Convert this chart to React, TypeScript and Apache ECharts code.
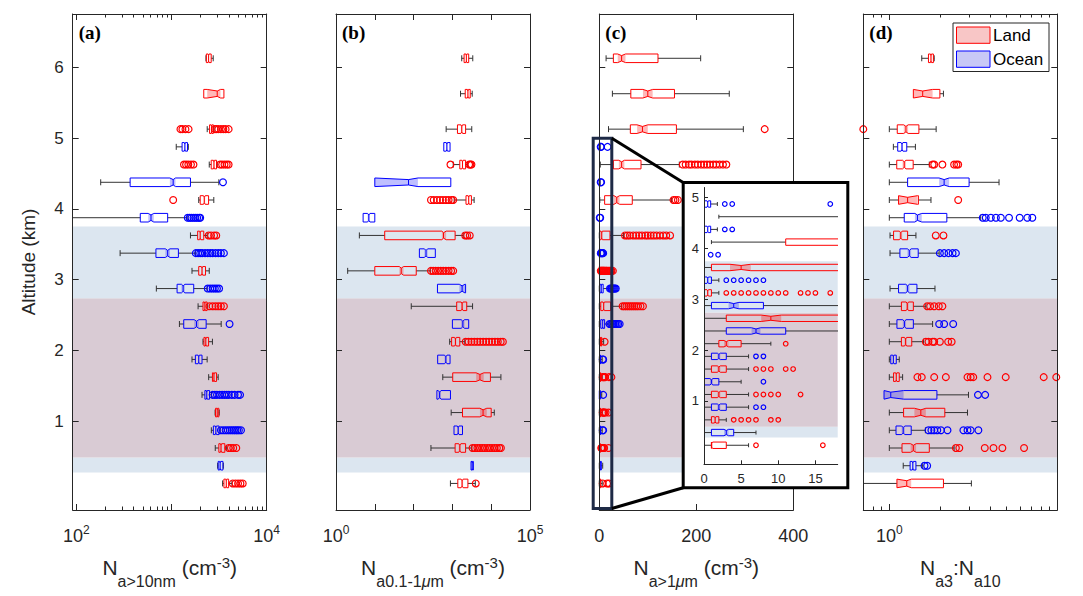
import React, { useEffect, useRef } from 'react';
import * as echarts from 'echarts';

const FONT = "'Liberation Sans', Arial, Helvetica, sans-serif";
const SERIF = "'Liberation Serif', 'Times New Roman', serif";
const AXIS = '#262626';
const LAND = '#ff0000';
const OCEAN = '#0000ff';
const LAND_FILL = 'rgba(255,0,0,0.28)';
const OCEAN_FILL = 'rgba(0,0,255,0.25)';
const BAND_BLUE = '#dce6f0';
const BAND_PURPLE = '#d9cbd4';
const WHISKER = '#333333';

// shaded altitude layers (km)
const bandFrom = [0.28, 0.49, 2.74];
const bandTo = [0.49, 2.74, 3.75];
const bandKind = [0, 1, 0]; // 0 light blue, 1 mauve

const yTicks = [1, 2, 3, 4, 5, 6];
const insetYTicks = [1, 2, 3, 4, 5];
const insetXTicks = [0, 5, 10, 15];

// rows: [altitude km, whisker low, q1, median, q3, whisker high]
// ---- (a) N a>10nm (cm-3)
const aLand = [
  [6.125, 2300, 2320, 2450, 2610, 2740],
  [5.625, 2180, 2180, 3020, 3550, 3550],
  [5.125, 2370, 2510, 2630, 2750, 2800],
  [4.625, 2490, 2610, 2790, 2970, 3020],
  [4.125, 1930, 2000, 2210, 2450, 2780],
  [3.625, 1580, 1880, 2000, 2180, 2370],
  [3.125, 1640, 1930, 2090, 2275, 2490],
  [2.625, 1900, 2140, 2240, 2365, 2400],
  [2.125, 2140, 2190, 2290, 2450, 2690],
  [1.625, 2455, 2690, 2790, 2970, 3090],
  [1.125, 2870, 2900, 3020, 3140, 3170],
  [0.625, 2880, 3140, 3310, 3630, 3800],
  [0.125, 3440, 3550, 3760, 3980, 4315],
];
const aLandOut = [
  [], [], [1240, 1300, 1400, 1510, 2850, 2950, 3100, 3300, 3500, 3700, 3980],
  [1350, 1420, 1500, 1600, 1700, 3240, 3400, 3600, 3800, 3980], [1040], [2450, 2600, 2800, 2950],
  [], [2500, 2700, 2900, 3100, 3300, 3550], [], [], [], [3980, 4200, 4450, 4790], [4400, 4700, 5000, 5300, 5600],
];
const aLandNotch = [[5.625, 2370, 3270]];
const aOcean = [
  [4.875, 1120, 1290, 1380, 1470, 1500],
  [4.375, 180, 367, 1040, 1580, 3140],
  [3.875, 60, 469, 608, 910, 1460],
  [3.375, 288, 685, 910, 1180, 1780],
  [2.875, 692, 1143, 1324, 1710, 2366],
  [2.375, 1210, 1343, 1830, 2310, 3325],
  [1.875, 1640, 1780, 1930, 2090, 2366],
  [1.375, 2090, 2240, 2345, 2510, 2630],
  [0.875, 2620, 2750, 2920, 3160, 3240],
  [0.375, 3050, 3090, 3240, 3470, 3500],
];
const aOceanOut = [
  [], [3470], [1480, 1550, 1620, 1700, 1780, 1860, 1950, 2000],
  [1800, 1900, 2000, 2100, 2250, 2400, 2550, 2700, 2900, 3100, 3300, 3550],
  [2400, 2550, 2700, 2850, 3000, 3160], [4070], [],
  [2700, 2850, 3000, 3200, 3400, 3600, 3800, 4000, 4300, 4600, 5000, 5250],
  [3300, 3500, 3700, 3900, 4100, 4300, 4500, 4700, 4900, 5100, 5370], [],
];
const aOceanNotch = [[4.375, 960, 1100]];
const aMajor = [100, 1000, 10000];
const aMinor = [200, 300, 400, 500, 600, 700, 800, 900, 2000, 3000, 4000, 5000, 6000, 7000, 8000, 9000];
const aLabels = [100, 10000];

// ---- (b) N a0.1-1um (cm-3)
const bLand = [
  [6.125, 1740, 2000, 2290, 2630, 3350],
  [5.625, 1620, 2140, 2510, 2880, 3240],
  [5.125, 690, 1350, 1740, 2190, 3155],
  [4.625, 1050, 1550, 1820, 2190, 2450],
  [4.125, 1110, 2240, 2630, 3090, 3630],
  [3.625, 4, 18, 590, 1175, 1900],
  [3.125, 2, 10, 48, 117, 270],
  [2.625, 87, 1290, 1780, 2340, 3310],
  [2.125, 850, 955, 1200, 1550, 2090],
  [1.625, 565, 1020, 5130, 9550, 17800],
  [1.125, 930, 1820, 6170, 10000, 12000],
  [0.625, 280, 1175, 1550, 2190, 3160],
  [0.125, 890, 1380, 1780, 2510, 3890],
];
const bLandOut = [
  [], [], [], [890, 2700, 2900, 3100], [280, 330, 400, 480, 570, 680, 800, 950, 1050],
  [2140, 2400, 2800], [280, 320, 370, 430, 500, 580, 680, 800, 930, 1050], [],
  [2200, 2600, 3100, 3700, 4400, 5200, 6200, 7400, 8800, 10500, 12500, 14800, 17600, 20000],
  [], [], [3300, 3800, 4400, 5100, 5900, 6800, 7900, 9100, 10500, 12200, 14000, 16200, 17800], [4000],
];
const bLandNotch = [[3.625, 535, 690], [3.125, 43, 55], [1.125, 5130, 7690]];
const bOcean = [
  [4.875, 600, 600, 720, 870, 870],
  [4.375, 10, 10, 74, 910, 910],
  [3.875, 5, 5, 7, 10, 10],
  [3.375, 141, 141, 209, 363, 363],
  [2.875, 412, 412, 1780, 2190, 2190],
  [2.375, 1000, 1000, 1860, 2630, 2630],
  [1.875, 417, 417, 676, 870, 870],
  [1.375, 398, 398, 468, 891, 891],
  [0.875, 1100, 1100, 1410, 1820, 1820],
  [0.375, 3020, 3020, 3240, 3470, 3470],
];
const bOceanOut = [[], [], [], [], [], [], [], [], [], []];
const bOceanNotch = [[4.375, 10, 129]];
const bMajor = [1, 10, 100, 1000, 10000, 100000];
const bMinor: number[] = [];
const bLabels = [1, 100000];

// ---- (c) N a>1um (cm-3)
const cLand = [
  [6.125, 14, 29, 46, 121, 209],
  [5.625, 27, 65, 100, 155, 268],
  [5.125, 19, 64, 89, 159, 297],
  [4.625, 2, 29, 46, 86, 165],
  [4.125, 1, 11, 36, 68, 149],
  [3.625, 0, 1, 5, 22, 50],
  [3.125, 0, 0, 0.5, 1, 2],
  [2.625, 0, 3, 9, 23.5, 46],
  [2.125, 0, 2, 3, 5, 9],
  [1.625, 0, 1, 2, 3, 6],
  [1.125, 0, 1, 2, 3, 6],
  [0.625, 0, 1, 1.5, 2, 3],
  [0.125, 0, 1, 1, 3, 6],
];
const cLandOut = [
  [], [], [341],
  [172, 178, 185, 190, 197, 203, 210, 216, 222, 228, 235, 241, 248, 255, 262],
  [153, 157, 162],
  [53, 58, 63, 70, 76, 82, 88, 95, 100, 106, 112, 118, 125, 132, 138, 146],
  [3, 4, 5, 6, 7, 8, 9, 10, 11, 13, 14, 15, 17, 19, 21, 23, 25, 28],
  [48, 52, 56, 60, 64, 68, 72, 76, 80, 85, 90],
  [11], [7, 8, 9, 11, 12, 20, 25], [7, 8, 9, 10, 13, 19], [4, 5, 6, 7, 9, 10, 19], [7, 16, 20],
];
const cLandNotch = [[6.125, 38, 54], [5.625, 90, 110], [5.125, 78, 100], [3.625, 3.5, 6.3], [2.625, 7.7, 10.4]];
const cOcean = [
  [4.875, 0, 0, 0.5, 0.9, 1.8],
  [4.375, 0, 0, 0.5, 0.9, 1.8],
  [3.875, 0, 0, 0, 0, 0],
  [3.375, 0, 0, 0.5, 1, 2],
  [2.875, 0, 1, 4, 8, 19],
  [2.375, 0, 3, 7, 11, 20],
  [1.875, 0, 1, 2, 3, 6],
  [1.375, 0, 0, 1, 2, 5],
  [0.875, 0, 1, 2, 3, 6],
  [0.375, 0, 1, 3, 4, 7],
];
const cOceanOut = [
  [2.8, 3.8, 17], [2.8, 3.8], [0.9, 1.9], [3, 4, 5, 6, 7, 8],
  [22, 24, 26, 28, 30, 32, 34], [21, 24, 27, 30, 33, 36, 39, 42], [7, 8], [8], [7, 8], [],
];
const cOceanNotch = [[2.375, 6.4, 7.6]];
const cMajor = [0, 200, 400];
const cMinor: number[] = [];
const cLabels = [0, 200, 400];

// ---- (d) Na3:Na10
const dLand = [
  [6.125, 1.56, 1.71, 1.77, 1.83, 1.85],
  [5.625, 1.39, 1.39, 1.58, 2.0, 2.1],
  [5.125, 1.0, 1.115, 1.256, 1.5, 1.9],
  [4.625, 1.0, 1.107, 1.227, 1.387, 1.73],
  [4.125, 1.0, 1.135, 1.285, 1.49, 1.77],
  [3.625, 1.01, 1.06, 1.17, 1.285, 1.44],
  [2.625, 1.0, 1.18, 1.28, 1.39, 1.65],
  [2.125, 1.0, 1.18, 1.25, 1.36, 1.6],
  [1.625, 1.0, 1.06, 1.1, 1.146, 1.2],
  [1.125, 1.0, 1.216, 1.54, 2.14, 2.92],
  [0.625, 1.0, 1.19, 1.39, 1.73, 2.43],
  [0.125, 0.6, 1.11, 1.27, 2.1, 3.08],
];
const dLandOut = [
  [], [], [0.7], [1.81, 1.85, 2.07, 2.43, 2.51, 2.57], [2.57], [1.89, 2.1],
  [1.68, 1.75, 1.85, 1.97, 2.07], [1.65, 1.71, 1.81, 1.85, 2.0, 2.24, 2.35],
  [1.47, 1.56, 1.85, 2.17, 2.92, 3.05, 3.16, 3.84, 4.93, 8.3, 9.86],
  [], [2.49, 2.61, 3.7, 4.17, 4.71, 6.34], [],
];
const dLandNotch = [[5.625, 1.39, 1.81], [4.125, 1.135, 1.47], [1.125, 1.41, 1.65], [0.125, 1.11, 1.35]];
const dOcean = [
  [4.875, 1.057, 1.122, 1.19, 1.27, 1.43],
  [4.375, 1.0, 1.285, 2.12, 2.985, 4.5],
  [3.875, 1.0, 1.227, 1.47, 2.2, 3.5],
  [3.375, 1.01, 1.156, 1.315, 1.486, 1.98],
  [2.875, 1.01, 1.135, 1.285, 1.46, 1.87],
  [2.375, 1.0, 1.11, 1.23, 1.39, 1.81],
  [1.875, 1.0, 1.02, 1.057, 1.1, 1.146],
  [1.375, 0.93, 0.93, 1.02, 1.92, 2.96],
  [0.875, 1.0, 1.096, 1.21, 1.35, 1.64],
  [0.375, 1.21, 1.33, 1.38, 1.44, 1.58],
];
const dOceanOut = [
  [], [], [3.6, 3.75, 4.02, 4.31, 4.61, 5.16, 5.97, 6.63, 7.1], [2.0, 2.12, 2.25, 2.38, 2.49], [],
  [1.98, 2.12, 2.4], [], [3.37, 3.72], [1.71, 1.78, 1.85, 1.93, 2.03, 2.22, 2.76, 2.92, 3.05, 3.39], [1.62, 1.68],
];
const dOceanNotch = [[4.375, 1.98, 2.27], [3.875, 1.42, 1.56], [1.375, 0.93, 1.216]];
const dMajor = [1, 10];
const dMinor = [0.8, 0.9, 2, 3, 4, 5, 6, 7, 8, 9];
const dLabels = [1];

// layout (px)
const TOP = 14;
const H = 496;
const W = 194;
const LEFTS = [72.7, 336, 599.3, 863.3];
const INSET = { left: 704, top: 187.5, width: 133.7, height: 276.8 };

const PANELS = [
  { label: '(a)', land: aLand, landOut: aLandOut, landNotch: aLandNotch, ocean: aOcean, oceanOut: aOceanOut, oceanNotch: aOceanNotch, log: true, min: 91.4, max: 10000, major: aMajor, minor: aMinor, labels: aLabels,
    title: '{n|N}{sub|a>10nm}{n| (cm}{sup|-3}{n|)}' },
  { label: '(b)', land: bLand, landOut: bLandOut, landNotch: bLandNotch, ocean: bOcean, oceanOut: bOceanOut, oceanNotch: bOceanNotch, log: true, min: 1, max: 100000, major: bMajor, minor: bMinor, labels: bLabels,
    title: '{n|N}{sub|a0.1-1}{subi|μ}{sub|m}{n| (cm}{sup|-3}{n|)}' },
  { label: '(c)', land: cLand, landOut: cLandOut, landNotch: cLandNotch, ocean: cOcean, oceanOut: cOceanOut, oceanNotch: cOceanNotch, log: false, min: 0, max: 400, major: cMajor, minor: cMinor, labels: cLabels,
    title: '{n|N}{sub|a>1}{subi|μ}{sub|m}{n| (cm}{sup|-3}{n|)}' },
  { label: '(d)', land: dLand, landOut: dLandOut, landNotch: dLandNotch, ocean: dOcean, oceanOut: dOceanOut, oceanNotch: dOceanNotch, log: true, min: 0.7, max: 10, major: dMajor, minor: dMinor, labels: dLabels,
    title: '{n|N}{sub|a3}{n|:N}{sub|a10}' },
];

function makeBoxRender(rows: any[], outs: any[], notches: any[], color: string, fill: string, f: (v: number) => number, lo: number, hi: number, sz: any) {
  return (params: any, api: any) => {
    const idx = api.value(2);
    const [alt, wlo, q1, med, q3, whi] = rows[idx];
    const XT = (t: number) => api.coord([Math.min(hi, Math.max(lo, t)), alt])[0];
    const yc = api.coord([lo, alt])[1];
    const { h, d, cap, r } = sz;
    const ch: any[] = [];
    const wStyle = { stroke: WHISKER, lineWidth: 1 };
    if (wlo < q1) {
      ch.push({ type: 'line', shape: { x1: XT(f(wlo)), y1: yc, x2: XT(f(q1)), y2: yc }, style: wStyle });
      if (f(wlo) >= lo) ch.push({ type: 'line', shape: { x1: XT(f(wlo)), y1: yc - cap, x2: XT(f(wlo)), y2: yc + cap }, style: wStyle });
    }
    if (whi > q3) {
      ch.push({ type: 'line', shape: { x1: XT(f(q3)), y1: yc, x2: XT(f(whi)), y2: yc }, style: wStyle });
      if (f(whi) <= hi) ch.push({ type: 'line', shape: { x1: XT(f(whi)), y1: yc - cap, x2: XT(f(whi)), y2: yc + cap }, style: wStyle });
    }
    const fq1 = f(q1), fq3 = f(q3), fm = f(med);
    const n = notches.find((e: any) => e[0] === alt);
    let nlo: number, nhi: number;
    if (n) { nlo = f(n[1]); nhi = f(n[2]); } else { const k = 0.1 * (fq3 - fq1); nlo = fm - k; nhi = fm + k; }
    nlo = Math.max(nlo, fq1); nhi = Math.min(nhi, fq3);
    const x1 = XT(fq1), x3 = XT(fq3), xm = XT(fm), xl = XT(nlo), xh = XT(nhi);
    if (fq3 > fq1) {
      ch.push({ type: 'polygon', shape: { points: [[xl, yc - h], [xm, yc - h + d], [xh, yc - h], [xh, yc + h], [xm, yc + h - d], [xl, yc + h]] }, style: { fill, stroke: 'none' } });
      ch.push({ type: 'polygon', shape: { points: [[x1, yc - h], [xl, yc - h], [xm, yc - h + d], [xh, yc - h], [x3, yc - h], [x3, yc + h], [xh, yc + h], [xm, yc + h - d], [xl, yc + h], [x1, yc + h]] }, style: { fill: 'none', stroke: color, lineWidth: 1 } });
      ch.push({ type: 'line', shape: { x1: xm, y1: yc - h + d, x2: xm, y2: yc + h - d }, style: { stroke: color, lineWidth: 1 } });
    }
    (outs[idx] || []).forEach((o: number) => {
      const t = f(o);
      if (t < lo - 1e-9 || t > hi + 1e-9) return;
      ch.push({ type: 'circle', shape: { cx: XT(t), cy: yc, r }, style: { fill: 'none', stroke: color, lineWidth: 1.2 } });
    });
    return { type: 'group', children: ch };
  };
}

function makeBandRender(lo: number, hi: number) {
  return (params: any, api: any) => {
    const p0 = api.coord([lo, api.value(2)]);
    const p1 = api.coord([hi, api.value(1)]);
    return { type: 'rect', shape: { x: p0[0], y: p0[1], width: p1[0] - p0[0], height: p1[1] - p0[1] }, style: { fill: api.value(3) === 1 ? BAND_PURPLE : BAND_BLUE } };
  };
}

function buildOption() {
  const grid: any[] = [];
  const xAxis: any[] = [];
  const yAxis: any[] = [];
  const series: any[] = [];
  const lineStyle = { color: AXIS, width: 1 };
  const tickRich = {
    b: { fontSize: 18, lineHeight: 24, fontFamily: FONT, color: AXIS },
    s: { fontSize: 12, lineHeight: 12, verticalAlign: 'top', fontFamily: FONT, color: AXIS },
  };
  const mainSz = { h: 4.3, d: 1.6, cap: 3, r: 3.4 };
  const insetSz = { h: 3.2, d: 1.2, cap: 2, r: 2.3 };
  const bandData = bandFrom.map((v, i) => [0, v, bandTo[i], bandKind[i]]);

  PANELS.forEach((p, i) => {
    const f = p.log ? (v: number) => Math.log10(v) : (v: number) => v;
    const lo = f(p.min), hi = f(p.max);
    grid.push({ left: LEFTS[i], top: TOP, width: W, height: H, containLabel: false });
    const base = { type: 'value', gridIndex: i, min: lo, max: hi, splitLine: { show: false }, z: 5 };
    const xMain = xAxis.length;
    const fmt = p.log ? (v: number) => `{b|10}{s|${Math.round(v)}}` : (v: number) => `{b|${Math.round(v)}}`;
    xAxis.push({ ...base, position: 'bottom', axisLine: { show: true, onZero: false, lineStyle },
      axisTick: { show: true, inside: true, length: 6, customValues: p.major.map(f), lineStyle },
      axisLabel: { show: true, customValues: p.labels.map(f), formatter: fmt, margin: 14, rich: tickRich, color: AXIS } });
    xAxis.push({ ...base, position: 'top', axisLine: { show: true, onZero: false, lineStyle },
      axisTick: { show: true, inside: true, length: 6, customValues: p.major.map(f), lineStyle }, axisLabel: { show: false } });
    if (p.minor.length) {
      ['bottom', 'top'].forEach((pos) => {
        xAxis.push({ ...base, position: pos, axisLine: { show: false, onZero: false },
          axisTick: { show: true, inside: true, length: 3.5, customValues: p.minor.map(f), lineStyle }, axisLabel: { show: false } });
      });
    }
    const yMain = yAxis.length;
    yAxis.push({ type: 'value', gridIndex: i, min: -0.25, max: 6.75, position: 'left', splitLine: { show: false }, z: 5,
      axisLine: { show: true, onZero: false, lineStyle },
      axisTick: { show: true, inside: true, length: 6, customValues: yTicks, lineStyle },
      axisLabel: { show: i === 0, customValues: yTicks, fontSize: 17, fontFamily: FONT, color: AXIS, margin: 9 } });
    yAxis.push({ type: 'value', gridIndex: i, min: -0.25, max: 6.75, position: 'right', splitLine: { show: false }, z: 5,
      axisLine: { show: true, onZero: false, lineStyle },
      axisTick: { show: true, inside: true, length: 6, customValues: yTicks, lineStyle }, axisLabel: { show: false } });

    series.push({ type: 'custom', xAxisIndex: xMain, yAxisIndex: yMain, z: 1, silent: true, clip: false,
      data: bandData, encode: { x: 0, y: 1 }, renderItem: makeBandRender(lo, hi) });
    series.push({ type: 'custom', xAxisIndex: xMain, yAxisIndex: yMain, z: 2, silent: true, clip: false,
      data: p.land.map((r, k) => [f(r[3]), r[0], k]), encode: { x: 0, y: 1 },
      renderItem: makeBoxRender(p.land, p.landOut, p.landNotch, LAND, LAND_FILL, f, lo, hi, mainSz) });
    series.push({ type: 'custom', xAxisIndex: xMain, yAxisIndex: yMain, z: 2, silent: true, clip: false,
      data: p.ocean.map((r, k) => [f(r[3]), r[0], k]), encode: { x: 0, y: 1 },
      renderItem: makeBoxRender(p.ocean, p.oceanOut, p.oceanNotch, OCEAN, OCEAN_FILL, f, lo, hi, mainSz) });
  });

  // inset (zoom of panel c)
  const gi = grid.length;
  grid.push({ left: INSET.left, top: INSET.top, width: INSET.width, height: INSET.height, containLabel: false });
  const xi = xAxis.length;
  xAxis.push({ type: 'value', gridIndex: gi, min: 0, max: 18, position: 'bottom', splitLine: { show: false }, z: 10,
    axisLine: { show: true, onZero: false, lineStyle },
    axisTick: { show: true, inside: true, length: 4, customValues: insetXTicks, lineStyle },
    axisLabel: { customValues: insetXTicks, fontSize: 13, fontFamily: FONT, color: AXIS, margin: 8 } });
  const yi = yAxis.length;
  yAxis.push({ type: 'value', gridIndex: gi, min: -0.25, max: 5.2, position: 'left', splitLine: { show: false }, z: 10,
    axisLine: { show: true, onZero: false, lineStyle },
    axisTick: { show: true, inside: true, length: 4, customValues: insetYTicks, lineStyle },
    axisLabel: { customValues: insetYTicks, fontSize: 13, fontFamily: FONT, color: AXIS, margin: 5 } });
  const id = (v: number) => v;
  series.push({ type: 'custom', xAxisIndex: xi, yAxisIndex: yi, z: 8, silent: true, clip: true,
    data: bandData, encode: { x: 0, y: 1 }, renderItem: makeBandRender(0, 18) });
  series.push({ type: 'custom', xAxisIndex: xi, yAxisIndex: yi, z: 9, silent: true, clip: true,
    data: cLand.map((r, k) => [r[3], r[0], k]), encode: { x: 0, y: 1 },
    renderItem: makeBoxRender(cLand, cLandOut, cLandNotch, LAND, LAND_FILL, id, 0, 1e6, insetSz) });
  series.push({ type: 'custom', xAxisIndex: xi, yAxisIndex: yi, z: 9, silent: true, clip: true,
    data: cOcean.map((r, k) => [r[3], r[0], k]), encode: { x: 0, y: 1 },
    renderItem: makeBoxRender(cOcean, cOceanOut, cOceanNotch, OCEAN, OCEAN_FILL, id, 0, 1e6, insetSz) });

  const titleRich = {
    n: { fontSize: 21, lineHeight: 44, fontFamily: FONT, fill: AXIS },
    sub: { fontSize: 16, lineHeight: 14, verticalAlign: 'bottom', fontFamily: FONT, fill: AXIS },
    subi: { fontSize: 16, lineHeight: 14, verticalAlign: 'bottom', fontFamily: FONT, fontStyle: 'italic', fill: AXIS },
    sup: { fontSize: 15, verticalAlign: 'top', padding: [10, 0, 0, 0], fontFamily: FONT, fill: AXIS },
  };

  const graphic: any[] = [];
  PANELS.forEach((p, i) => {
    graphic.push({ type: 'text', x: LEFTS[i] + 6, y: 32, z: 20, silent: true,
      style: { text: p.label, font: `bold 19px ${SERIF}`, fill: '#000', align: 'left', verticalAlign: 'middle' } });
    graphic.push({ type: 'text', x: LEFTS[i] + W / 2, y: 567, z: 20, silent: true,
      style: { text: p.title, rich: titleRich, align: 'center', verticalAlign: 'middle', fill: AXIS } });
  });
  graphic.push({ type: 'text', x: 28, y: 262, rotation: Math.PI / 2, z: 20, silent: true,
    style: { text: 'Altitude (km)', fontSize: 19, fontFamily: FONT, fill: AXIS, align: 'center', verticalAlign: 'middle' } });
  // zoom indicator + connectors
  const navy = '#1e2a46';
  graphic.push({ type: 'rect', z: 6, silent: true, shape: { x: 593.2, y: 138.2, width: 18.6, height: 370.3 }, style: { fill: 'none', stroke: navy, lineWidth: 3 } });
  graphic.push({ type: 'line', z: 6, silent: true, shape: { x1: 611.8, y1: 138.2, x2: 683.2, y2: 182.5 }, style: { stroke: '#000', lineWidth: 3 } });
  graphic.push({ type: 'line', z: 6, silent: true, shape: { x1: 611.8, y1: 508.5, x2: 683.2, y2: 487.8 }, style: { stroke: '#000', lineWidth: 3 } });
  graphic.push({ type: 'rect', z: 7, silent: true, shape: { x: 683.2, y: 182.5, width: 164.6, height: 305.3 }, style: { fill: '#ffffff', stroke: 'none' } });
  graphic.push({ type: 'rect', z: 12, silent: true, shape: { x: 683.2, y: 182.5, width: 164.6, height: 305.3 }, style: { fill: 'none', stroke: '#000', lineWidth: 3 } });
  // legend
  graphic.push({ type: 'rect', z: 20, silent: true, shape: { x: 953, y: 23, width: 96, height: 48.5 }, style: { fill: '#fff', stroke: AXIS, lineWidth: 1 } });
  graphic.push({ type: 'rect', z: 21, silent: true, shape: { x: 956.5, y: 27, width: 33.5, height: 16.3 }, style: { fill: '#f8c6c6', stroke: LAND, lineWidth: 1 } });
  graphic.push({ type: 'rect', z: 21, silent: true, shape: { x: 956.5, y: 51, width: 33.5, height: 16.3 }, style: { fill: '#c8c8f6', stroke: OCEAN, lineWidth: 1 } });
  graphic.push({ type: 'text', z: 21, silent: true, x: 993, y: 35.5, style: { text: 'Land', fontSize: 17, fontFamily: FONT, fill: '#000', align: 'left', verticalAlign: 'middle' } });
  graphic.push({ type: 'text', z: 21, silent: true, x: 993, y: 59.5, style: { text: 'Ocean', fontSize: 17, fontFamily: FONT, fill: '#000', align: 'left', verticalAlign: 'middle' } });

  return {
    animation: false,
    backgroundColor: '#ffffff',
    textStyle: { fontFamily: FONT },
    grid, xAxis, yAxis, series, graphic,
  };
}

export default function App() {
  const ref = useRef<HTMLDivElement>(null);
  useEffect(() => {
    if (!ref.current) return;
    const chart = echarts.init(ref.current, null, { renderer: 'svg' });
    chart.setOption(buildOption() as any);
    return () => chart.dispose();
  }, []);
  return <div ref={ref} style={{ position: 'fixed', left: 0, top: 0, width: 1083, height: 596, background: '#fff' }} />;
}
